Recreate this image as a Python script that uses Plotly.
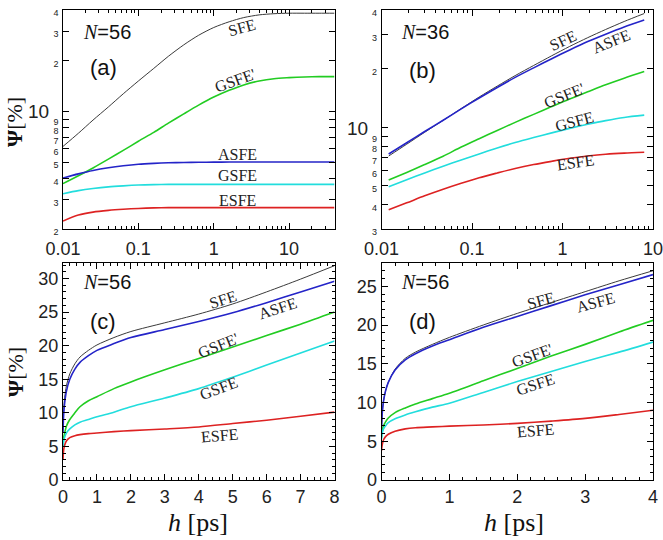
import plotly.graph_objects as go

W, H = 663, 540

# ---------------- data ----------------
# panel (a): N=56, log-log
xa = [0.01, 0.016, 0.025, 0.04, 0.063, 0.1, 0.16, 0.25, 0.4, 0.63, 1, 1.6, 2.5, 4, 6.3, 10, 16, 25, 40]
a_sfe = [6.19, 7.41, 8.87, 10.62, 12.71, 15.14, 17.99, 21.23, 24.83, 28.31, 31.48, 34.04, 36.06, 37.41, 38.02, 38.28, 38.28, 38.28, 38.28]
a_gsfep = [3.72, 4.14, 4.61, 5.20, 5.86, 6.64, 7.50, 8.51, 9.66, 10.89, 12.16, 13.34, 14.36, 15.14, 15.63, 15.85, 16.0, 16.07, 16.07]
a_asfe = [4.02, 4.25, 4.45, 4.62, 4.75, 4.85, 4.91, 4.95, 4.97, 4.98, 4.99, 5.0, 5.0, 5.0, 5.0, 5.0, 5.0, 5.0, 5.0]
a_gsfe = [3.24, 3.38, 3.48, 3.56, 3.61, 3.65, 3.67, 3.68, 3.68, 3.68, 3.68, 3.68, 3.68, 3.68, 3.68, 3.68, 3.68, 3.68, 3.68]
a_esfe = [2.23, 2.42, 2.52, 2.58, 2.62, 2.65, 2.67, 2.68, 2.68, 2.68, 2.68, 2.68, 2.68, 2.68, 2.68, 2.68, 2.68, 2.68, 2.68]

# panel (b): N=36, log-log
xb = [0.012, 0.019, 0.03, 0.048, 0.076, 0.12, 0.19, 0.3, 0.48, 0.76, 1.2, 1.9, 3.0, 4.8, 8.0]
b_sfe = [7.11, 8.18, 9.42, 10.84, 12.47, 14.29, 16.26, 18.41, 20.75, 23.28, 26.0, 28.84, 31.77, 34.91, 38.37]
b_asfe = [7.28, 8.32, 9.51, 10.86, 12.42, 14.13, 16.0, 18.03, 20.18, 22.49, 24.95, 27.54, 30.06, 32.73, 35.56]
b_gsfep = [5.35, 5.86, 6.43, 7.1, 7.91, 8.73, 9.62, 10.59, 11.64, 12.76, 13.96, 15.2, 16.52, 17.86, 19.32]
b_gsfe = [4.94, 5.37, 5.82, 6.30, 6.79, 7.29, 7.82, 8.34, 8.85, 9.35, 9.86, 10.35, 10.81, 11.22, 11.53]
b_esfe = [3.77, 4.09, 4.44, 4.80, 5.15, 5.50, 5.82, 6.14, 6.43, 6.68, 6.92, 7.11, 7.26, 7.36, 7.43]

# panel (c): N=56, linear, h up to 8 ps
xc = [0, 0.02, 0.05, 0.1, 0.2, 0.35, 0.5, 0.75, 1, 1.5, 2, 3, 4, 5, 6, 7, 8]
c_sfe = [7.5, 10.5, 12.3, 14.0, 15.8, 17.3, 18.3, 19.3, 20.1, 21.2, 22.1, 23.4, 24.7, 26.2, 28.0, 29.9, 31.9]
c_asfe = [7.0, 9.8, 11.5, 13.2, 15.0, 16.5, 17.5, 18.5, 19.3, 20.3, 21.2, 22.4, 23.6, 24.9, 26.4, 28.0, 29.6]
c_gsfep = [5.0, 6.3, 7.0, 8.0, 9.0, 10.0, 10.9, 11.8, 12.4, 13.6, 14.6, 16.4, 18.1, 19.8, 21.5, 23.2, 25.0]
c_gsfe = [5.0, 5.8, 6.4, 7.0, 7.6, 8.2, 8.6, 9.0, 9.4, 10.1, 10.9, 12.2, 13.6, 15.3, 17.1, 18.9, 20.7]
c_esfe = [3.0, 4.5, 5.2, 5.8, 6.3, 6.6, 6.75, 6.9, 7.0, 7.2, 7.35, 7.6, 7.9, 8.4, 8.9, 9.5, 10.1]

# panel (d): N=56, linear, h up to 4 ps
xd = [0, 0.01, 0.03, 0.06, 0.1, 0.2, 0.35, 0.5, 0.75, 1, 1.5, 2, 2.5, 3, 3.5, 4]
d_sfe = [6.5, 8.5, 10.2, 11.5, 12.6, 14.3, 15.7, 16.5, 17.5, 18.4, 20.0, 21.5, 22.9, 24.3, 25.7, 27.0]
d_asfe = [6.5, 8.5, 10.2, 11.5, 12.6, 14.2, 15.5, 16.3, 17.3, 18.1, 19.7, 21.1, 22.5, 23.9, 25.2, 26.5]
d_gsfep = [5.5, 6.3, 7.0, 7.5, 8.0, 8.7, 9.3, 9.8, 10.5, 11.2, 12.8, 14.4, 16.0, 17.5, 19.1, 20.6]
d_gsfe = [5.3, 6.0, 6.6, 7.0, 7.4, 7.9, 8.4, 8.8, 9.4, 9.9, 11.3, 12.7, 14.0, 15.3, 16.5, 17.8]
d_esfe = [3.8, 4.5, 5.2, 5.6, 5.9, 6.3, 6.6, 6.75, 6.85, 6.95, 7.1, 7.3, 7.6, 7.95, 8.45, 9.0]

# tick labels
log_x_vals = [0.01, 0.1, 1, 10]
log_x_text = ["0.01", "0.1", "1", "10"]
a_y_vals = [2, 3, 4, 5, 6, 7, 8, 9, 10, 20, 30, 40]
a_y_text = ["2", "3", "4", "5", "6", "7", "8", "9", "10", "2", "3", "4"]
b_y_vals = [3, 4, 5, 6, 7, 8, 9, 10, 20, 30, 40]
b_y_text = ["3", "4", "5", "6", "7", "8", "9", "10", "2", "3", "4"]

# ---------------- style ----------------
COL = {"SFE": "#3a3a3a", "ASFE": "#2424c8", "GSFE'": "#22cc22", "GSFE": "#22dddd", "ESFE": "#dd2222"}
WID = {"SFE": 1.0, "ASFE": 1.6, "GSFE'": 1.6, "GSFE": 1.6, "ESFE": 1.6}
TICKFONT = dict(family="Liberation Sans", size=18, color="#222")
SERIF = "Liberation Serif"


def small(t):
    # decade label is drawn separately as a larger annotation
    return "" if t == "10" else '<span style="font-size:9px">%s</span>' % t


fig = go.Figure()

panels = [
    ("x", "y", xa, [("SFE", a_sfe), ("GSFE'", a_gsfep), ("ASFE", a_asfe), ("GSFE", a_gsfe), ("ESFE", a_esfe)]),
    ("x2", "y2", xb, [("SFE", b_sfe), ("ASFE", b_asfe), ("GSFE'", b_gsfep), ("GSFE", b_gsfe), ("ESFE", b_esfe)]),
    ("x3", "y3", xc, [("SFE", c_sfe), ("ASFE", c_asfe), ("GSFE'", c_gsfep), ("GSFE", c_gsfe), ("ESFE", c_esfe)]),
    ("x4", "y4", xd, [("SFE", d_sfe), ("ASFE", d_asfe), ("GSFE'", d_gsfep), ("GSFE", d_gsfe), ("ESFE", d_esfe)]),
]
for xr, yr, xs, series in panels:
    for name, ys in series:
        fig.add_trace(go.Scatter(x=xs, y=ys, xaxis=xr, yaxis=yr, mode="lines",
                                 line=dict(color=COL[name], width=WID[name], shape="spline", smoothing=0.8),
                                 showlegend=False, hoverinfo="skip"))


def px(x):
    return x / W


def py(y):
    return 1 - y / H


dom_l = [px(63), px(334.5)]
dom_r = [px(381.5), px(653)]
dom_t = [py(229), py(10)]
dom_b = [py(480), py(263)]

common = dict(showline=True, linecolor="black", linewidth=1, mirror="allticks",
              ticks="inside", ticklen=6, tickcolor="black", showgrid=False, zeroline=False,
              tickfont=TICKFONT, automargin=False, ticklabeloverflow="allow")

log_minor_x = []
for dec in [0.01, 0.1, 1, 10]:
    for k in range(2, 10):
        log_minor_x.append(dec * k)

fig.update_layout(
    width=W, height=H, margin=dict(l=0, r=0, t=0, b=0),
    paper_bgcolor="white", plot_bgcolor="white",
    xaxis=dict(domain=dom_l, anchor="y", type="log", range=[-2, 1.602],
               tickvals=log_x_vals, ticktext=log_x_text, ticklabelstandoff=3,
               minor=dict(tickvals=log_minor_x, ticks="inside", ticklen=3, tickcolor="black"), **common),
    yaxis=dict(domain=dom_t, anchor="x", type="log", range=[0.30103, 1.60206],
               tickvals=a_y_vals, ticktext=[small(t) for t in a_y_text], **common),
    xaxis2=dict(domain=dom_r, anchor="y2", type="log", range=[-2, 1],
                tickvals=log_x_vals, ticktext=log_x_text, ticklabelstandoff=3,
                minor=dict(tickvals=log_minor_x, ticks="inside", ticklen=3, tickcolor="black"), **common),
    yaxis2=dict(domain=dom_t, anchor="x2", type="log", range=[0.47712, 1.60206],
                tickvals=b_y_vals, ticktext=[small(t) for t in b_y_text], **common),
    xaxis3=dict(domain=dom_l, anchor="y3", range=[0, 8], dtick=1,
                minor=dict(dtick=0.2, ticks="inside", ticklen=3, tickcolor="black"), **common),
    yaxis3=dict(domain=dom_b, anchor="x3", range=[0, 32.3], dtick=5,
                minor=dict(dtick=1, ticks="inside", ticklen=3, tickcolor="black"), **common),
    xaxis4=dict(domain=dom_r, anchor="y4", range=[0, 4], dtick=1,
                minor=dict(dtick=0.2, ticks="inside", ticklen=3, tickcolor="black"), **common),
    yaxis4=dict(domain=dom_b, anchor="x4", range=[0, 28], dtick=5,
                minor=dict(dtick=1, ticks="inside", ticklen=3, tickcolor="black"), **common),
)

ann = []


def text(x, y, t, size=16, angle=0, family=SERIF, color="#222", xanchor="center"):
    ann.append(dict(x=px(x), y=py(y), xref="paper", yref="paper", text=t, showarrow=False,
                    textangle=angle, font=dict(family=family, size=size, color=color),
                    xanchor=xanchor, yanchor="middle"))


# curve labels
text(242, 27, "SFE", angle=-15)
text(235, 80, "GSFE'", angle=-20)
text(237, 154, "ASFE")
text(237, 175, "GSFE")
text(237, 200, "ESFE")

text(563, 40, "SFE", angle=-25)
text(611, 42, "ASFE", angle=-22)
text(564, 95, "GSFE'", angle=-22)
text(574, 122, "GSFE", angle=-15)
text(575, 163, "ESFE", angle=-8)

text(223, 299, "SFE", angle=-18)
text(277, 308, "ASFE", angle=-18)
text(218, 345, "GSFE'", angle=-22)
text(218, 388, "GSFE", angle=-20)
text(219, 435, "ESFE", angle=-5)

text(541, 300, "SFE", angle=-15)
text(595, 302, "ASFE", angle=-15)
text(532, 355, "GSFE'", angle=-20)
text(535, 385, "GSFE", angle=-18)
text(535, 430, "ESFE", angle=-5)

# decade labels on the log y axes
text(51, 112, "10", size=19, family="Liberation Sans", xanchor="right")
text(370, 128, "10", size=19, family="Liberation Sans", xanchor="right")

# panel tags
NT = '<span style="font-family:Liberation Serif"><i>N</i></span>=%s'
for (x, y, n) in [(107, 32, "56"), (425, 32, "36"), (107, 282, "56"), (425, 282, "56")]:
    text(x, y, NT % n, size=20, family="Liberation Sans", color="#111")
for (x, y, t) in [(103, 68, "(a)"), (422, 70, "(b)"), (103, 321, "(c)"), (422, 321, "(d)")]:
    text(x, y, t, size=22, family="Liberation Sans", color="#111")

# axis titles
text(15, 122, "<b>Ψ</b>[%]", size=22, angle=-90, family=SERIF, color="#111")
text(15, 372, "<b>Ψ</b>[%]", size=22, angle=-90, family=SERIF, color="#111")
text(198, 522, "<i>h</i> [ps]", size=26, family=SERIF, color="#111")
text(514, 522, "<i>h</i> [ps]", size=26, family=SERIF, color="#111")

fig.update_layout(annotations=ann)

fig.write_html("out.html")
